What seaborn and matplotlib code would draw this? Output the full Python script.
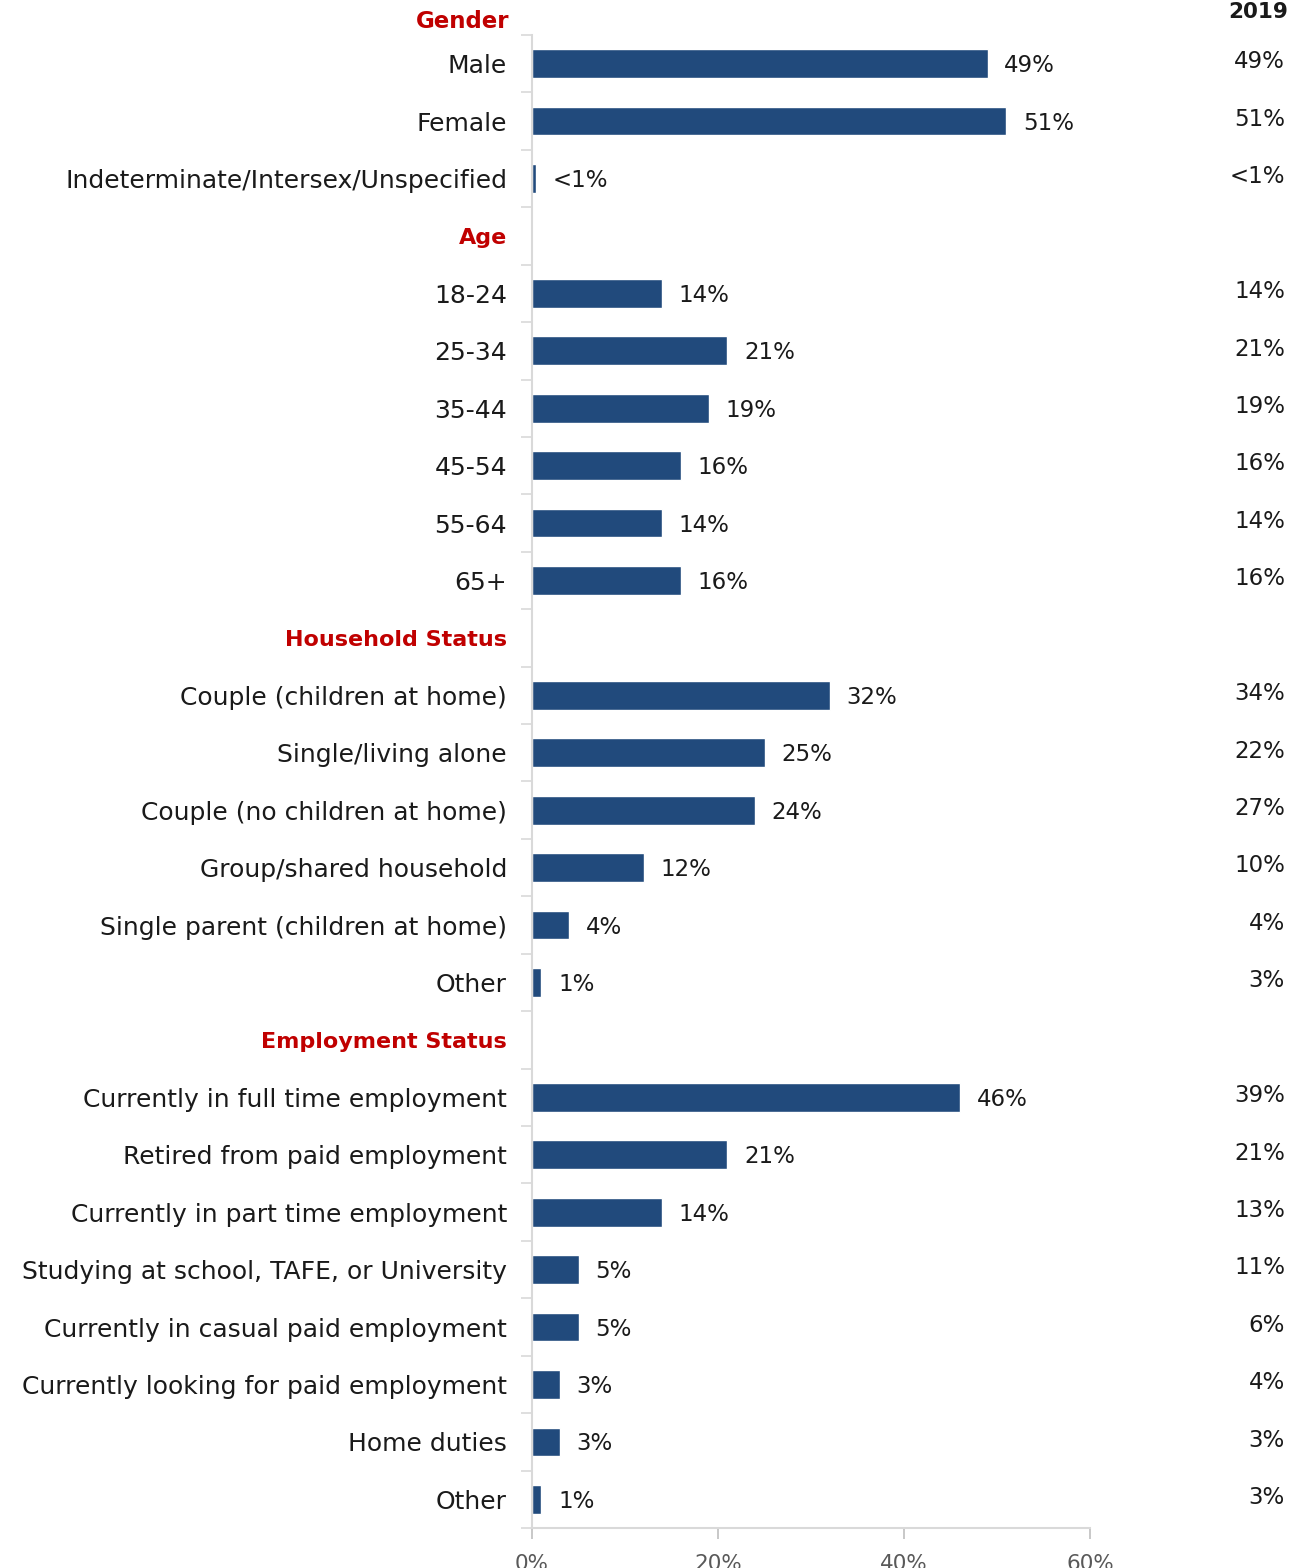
import numpy as np
import pandas as pd
import matplotlib
matplotlib.use("Agg")
import matplotlib.pyplot as plt
import seaborn as sns

# ---- data -------------------------------------------------------------
section_titles = ["Gender", "Age", "Household Status", "Employment Status"]

gender_labels = ["Male", "Female", "Indeterminate/Intersex/Unspecified"]
gender_2021 = [49, 51, 0.4]
gender_2019 = [49, 51, 0.4]

age_labels = ["18-24", "25-34", "35-44", "45-54", "55-64", "65+"]
age_2021 = [14, 21, 19, 16, 14, 16]
age_2019 = [14, 21, 19, 16, 14, 16]

household_labels = ["Couple (children at home)", "Single/living alone",
                    "Couple (no children at home)", "Group/shared household",
                    "Single parent (children at home)", "Other"]
household_2021 = [32, 25, 24, 12, 4, 1]
household_2019 = [34, 22, 27, 10, 4, 3]

employment_labels = ["Currently in full time employment",
                     "Retired from paid employment",
                     "Currently in part time employment",
                     "Studying at school, TAFE, or University",
                     "Currently in casual paid employment",
                     "Currently looking for paid employment",
                     "Home duties", "Other"]
employment_2021 = [46, 21, 14, 5, 5, 3, 3, 1]
employment_2019 = [39, 21, 13, 11, 6, 4, 3, 3]

xtick_values = [0, 20, 40, 60]
prior_year_title = "2019"

# ---- styling ----------------------------------------------------------
BAR = "#214A7C"
RED = "#C00000"
AXIS_GREY = "#D9D9D9"
TEXT = "#1A1A1A"
TICK_TEXT = "#595959"

sns.set_style("white")
plt.rcParams["font.family"] = ["DejaVu Sans"]

def pct(v):
    return "<1%" if v < 1 else f"{v:.0f}%"

# Assemble the rows: the first section's title sits above the axes,
# later section titles occupy their own empty row.
sections = [
    (gender_labels, gender_2021, gender_2019),
    (age_labels, age_2021, age_2019),
    (household_labels, household_2021, household_2019),
    (employment_labels, employment_2021, employment_2019),
]
records = []
for i, (labels, cur, prev) in enumerate(sections):
    if i > 0:
        records.append(dict(label=section_titles[i], value=np.nan,
                            prior=np.nan, header=True))
    for lab, c, p in zip(labels, cur, prev):
        records.append(dict(label=lab, value=c, prior=p, header=False))
df = pd.DataFrame(records)
df["row"] = np.arange(len(df))
n = len(df)

W, H = 1297, 1568
fig = plt.figure(figsize=(W / 100, H / 100), dpi=100)
ax = fig.add_axes([532 / W, 1 - 1528 / H, (1090 - 532) / W, (1528 - 35) / H])

bars = df[~df["header"]]
sns.barplot(data=bars, x="value", y="row", order=list(range(n)), orient="h",
            color=BAR, width=0.5, saturation=1, ax=ax)

# value labels next to the bars
for _, r in bars.iterrows():
    ax.annotate(pct(r["value"]), xy=(r["value"], r["row"]), xytext=(12, -1.5),
                textcoords="offset points", ha="left", va="center",
                fontsize=16.5, color=TEXT)

# prior-year column on the right
ytr = ax.get_yaxis_transform()
for _, r in bars.iterrows():
    ax.text((1285 - 532) / (1090 - 532), r["row"] - 0.03, pct(r["prior"]),
            transform=ytr, ha="right", va="center", fontsize=16.5,
            color=TEXT, clip_on=False)
fig.text(1288 / W, 1 - 12 / H, prior_year_title, ha="right", va="center",
         fontsize=15.5, fontweight="bold", color=TEXT)
fig.text(509 / W, 1 - 22 / H, section_titles[0], ha="right", va="center",
         fontsize=16.5, fontweight="bold", color=RED)

# axes
ax.set_xlim(0, 60)
ax.set_ylim(n - 0.5, -0.5)
ax.set_xticks(xtick_values)
ax.set_xticklabels([f"{v}%" for v in xtick_values])
ax.set_yticks(range(n))
ax.set_yticklabels(df["label"])
ax.set_yticks(np.arange(-0.5, n, 1), minor=True)
ax.set_xlabel("")
ax.set_ylabel("")

ax.tick_params(axis="y", which="major", length=0, pad=18, labelsize=18,
               labelcolor=TEXT)
ax.tick_params(axis="y", which="minor", length=8, width=1.2, color=AXIS_GREY,
               left=True)
ax.tick_params(axis="x", which="major", length=8, width=1.2, color="#BFBFBF",
               pad=11, labelsize=15.5, labelcolor=TICK_TEXT, bottom=True)

for lbl, is_header in zip(ax.get_yticklabels(), df["header"]):
    if is_header:
        lbl.set_color(RED)
        lbl.set_fontweight("bold")
        lbl.set_fontsize(16)

for side in ["top", "right"]:
    ax.spines[side].set_visible(False)
for side in ["left", "bottom"]:
    ax.spines[side].set_color(AXIS_GREY)
    ax.spines[side].set_linewidth(1.5)

fig.savefig("out.png", dpi=100)
